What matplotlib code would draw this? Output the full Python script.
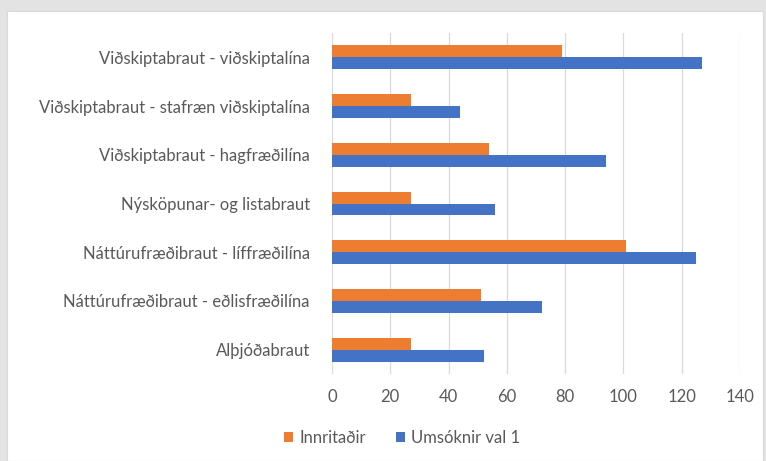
import matplotlib
matplotlib.use("Agg")
import matplotlib.pyplot as plt
from matplotlib.patches import Rectangle
import numpy as np

categories = [
    "Viðskiptabraut - viðskiptalína",
    "Viðskiptabraut - stafræn viðskiptalína",
    "Viðskiptabraut - hagfræðilína",
    "Nýsköpunar- og listabraut",
    "Náttúrufræðibraut - líffræðilína",
    "Náttúrufræðibraut - eðlisfræðilína",
    "Alþjóðabraut",
]
innritadir = [79, 27, 54, 27, 101, 51, 27]
umsoknir = [127, 44, 94, 56, 125, 72, 52]
xticks = [0, 20, 40, 60, 80, 100, 120, 140]

plt.rcParams['font.family'] = ['Lato', 'DejaVu Sans']
W, H = 766, 461
fig = plt.figure(figsize=(W/100, H/100), dpi=100, facecolor="#E3E3E3")
bg = Rectangle((7/W, 0), 756/W, 450/H, transform=fig.transFigure,
               facecolor="white", edgecolor="#D9D9D9", lw=0.8, zorder=-5)
fig.add_artist(bg)
ax = fig.add_axes([332/W, 1-374/H, 408/W, 341/H])
ax.set_zorder(2)
ax.set_facecolor("none")
y = np.arange(len(categories))
h = 0.245
ax.barh(y - h/2, innritadir, height=h, color="#ED7D31", label="Innritaðir", zorder=3)
ax.barh(y + h/2, umsoknir, height=h, color="#4472C4", label="Umsóknir val 1", zorder=3)
ax.set_ylim(len(categories) - 0.5, -0.5)
ax.set_xlim(0, 140)
ax.set_xticks(xticks)
ax.set_xticklabels([str(v) for v in xticks])
ax.set_yticks(y)
ax.set_yticklabels(categories)
ax.grid(axis="x", color="#D9D9D9", lw=0.9, zorder=0)
for s in ax.spines.values():
    s.set_visible(False)
ax.tick_params(axis="both", length=0, colors="#595959", labelsize=12)
ax.tick_params(axis="y", pad=16)
ax.tick_params(axis="x", pad=11)
leg = ax.legend(loc="center", bbox_to_anchor=(402/W, 1-438/H), bbox_transform=fig.transFigure,
                ncol=2, frameon=False, fontsize=12, handlelength=0.55, handleheight=0.55,
                handletextpad=0.35, columnspacing=1.8, borderaxespad=0)
for t in leg.get_texts():
    t.set_color("#595959")
fig.savefig("out.png", dpi=100, facecolor=fig.get_facecolor())
